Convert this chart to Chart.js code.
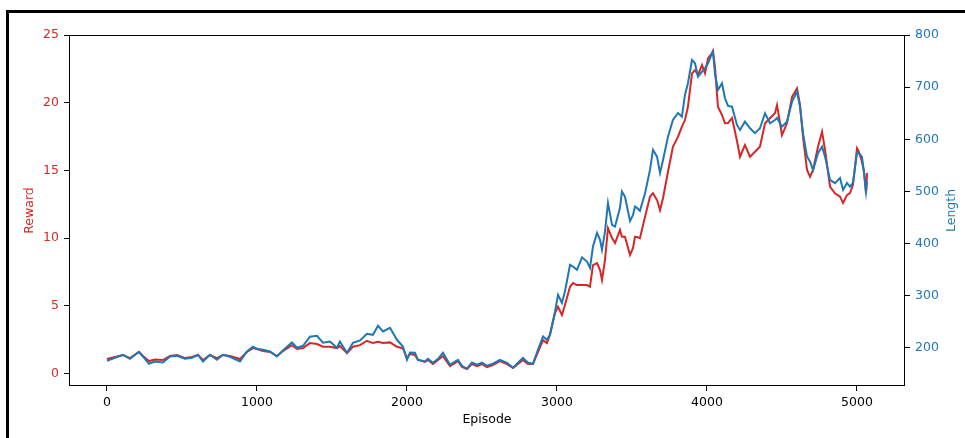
<!DOCTYPE html>
<html lang="en">
<head>
    <meta charset="UTF-8">
    <title>Reward and Length per Episode</title>
    <script src="https://cdn.jsdelivr.net/npm/chart.js@4.4.0/dist/chart.umd.min.js"></script>
    <style>
        html, body {
            margin: 0;
            padding: 0;
            background: #fff;
        }
        .frame {
            position: absolute;
            left: 6px;
            top: 10px;
            right: 0;
            bottom: 0;
            border-left: 3px solid #000;
            border-top: 3px solid #000;
            pointer-events: none;
        }
        canvas {
            position: absolute;
            left: 0;
            top: 0;
        }
    </style>
</head>
<body>

<canvas id="rewardChart" width="965" height="438"></canvas>
<div class="frame"></div>

<script>
    // values
    const episodes = [
        0, 107, 153, 213, 240, 280, 320, 373, 420, 467, 520, 567, 607, 640, 687, 733, 773, 820, 887, 933,
        973, 1000, 1040, 1087, 1133, 1173, 1233, 1267, 1307, 1353, 1400, 1440, 1487, 1533, 1553, 1600, 1640, 1687, 1733, 1773,
        1807, 1840, 1887, 1933, 1973, 2000, 2020, 2053, 2073, 2120, 2140, 2173, 2207, 2240, 2287, 2307, 2340, 2367, 2400, 2433,
        2467, 2500, 2533, 2573, 2620, 2667, 2707, 2740, 2773, 2807, 2840, 2873, 2907, 2933, 2953, 2987, 3007, 3033, 3053, 3087,
        3107, 3133, 3167, 3200, 3220, 3240, 3267, 3287, 3300, 3320, 3340, 3367, 3387, 3420, 3433, 3453, 3487, 3507, 3520, 3533,
        3553, 3587, 3620, 3640, 3667, 3687, 3707, 3740, 3773, 3807, 3833, 3853, 3873, 3900, 3920, 3940, 3967, 3987, 4007, 4033,
        4040, 4053, 4073, 4100, 4120, 4140, 4167, 4200, 4220, 4253, 4287, 4320, 4353, 4387, 4420, 4453, 4467, 4500, 4533, 4567,
        4600, 4620, 4640, 4667, 4687, 4707, 4740, 4767, 4787, 4820, 4853, 4887, 4907, 4933, 4953, 4973, 5000, 5013, 5033, 5047,
        5060, 5067
    ];
    const reward = [
        1.07, 1.37, 1.14, 1.59, 1.29, 0.92, 1.03, 1.0, 1.29, 1.37, 1.14, 1.22, 1.37, 1.0, 1.37, 1.14, 1.37, 1.29, 1.07, 1.59,
        1.88, 1.81, 1.66, 1.59, 1.29, 1.66, 2.10, 1.81, 1.88, 2.25, 2.18, 1.98, 1.98, 1.88, 2.03, 1.51, 1.98, 2.10, 2.42, 2.25,
        2.35, 2.25, 2.30, 1.98, 1.86, 1.14, 1.44, 1.37, 1.0, 0.85, 1.0, 0.70, 1.0, 1.29, 0.55, 0.70, 0.92, 0.48, 0.33, 0.70,
        0.55, 0.70, 0.48, 0.63, 0.92, 0.70, 0.41, 0.70, 1.0, 0.70, 0.70, 1.59, 2.47, 2.25, 2.84, 4.47, 4.93, 4.32, 5.06, 6.41,
        6.68, 6.53, 6.53, 6.53, 6.41, 8.01, 8.16, 7.64, 6.91, 8.38, 10.74, 10.0, 9.64, 10.60, 10.10, 10.10, 8.75, 9.27, 10.10, 10.08,
        10.0, 11.58, 13.06, 13.31, 12.81, 12.07, 12.96, 14.90, 16.75, 17.49, 18.23, 18.72, 19.70, 22.17, 22.41, 22.05, 22.78, 22.17, 23.28, 23.65,
        23.82, 22.66, 19.70, 19.09, 18.48, 18.5, 18.87, 17.17, 16.01, 16.87, 16.01, 16.38, 16.75, 18.48, 18.85, 19.22, 19.83, 17.61, 18.48, 20.44,
        21.06, 19.83, 17.49, 15.03, 14.53, 15.03, 16.75, 17.86, 16.51, 13.80, 13.31, 13.06, 12.59, 13.18, 13.33, 13.92, 16.63, 16.36, 15.64, 14.90,
        13.31, 14.81
    ];
    const length = [
        175.4, 186.9, 179.2, 192.6, 183.6, 169.6, 174.0, 172.1, 183.6, 185.0, 179.2, 181.1, 186.9, 174.0, 186.9, 177.3, 186.9, 183.1, 174.0, 193.2,
        202.2, 198.4, 196.5, 193.2, 183.6, 195.1, 210.4, 200.3, 204.1, 221.4, 223.3, 209.9, 212.4, 200.3, 212.4, 190.7, 209.9, 214.3, 227.1, 225.2,
        242.5, 231.5, 238.6, 215.6, 202.8, 177.3, 191.3, 190.7, 177.3, 174.0, 179.2, 171.6, 179.2, 190.7, 167.7, 171.6, 177.3, 165.8, 160.1, 172.1,
        167.7, 171.6, 165.8, 169.7, 177.3, 171.6, 162.0, 171.6, 181.1, 171.6, 169.7, 196.5, 221.9, 215.6, 225.2, 269.8, 301.8, 286.5, 308.2, 359.3,
        356.1, 349.7, 373.7, 365.6, 353.6, 394.4, 420.6, 407.2, 388.1, 423.1, 478.1, 436.0, 432.7, 468.6, 499.7, 490.2, 443.6, 455.1, 471.0, 468.6,
        462.8, 496.7, 541.3, 579.7, 566.8, 535.6, 560.5, 605.1, 637.1, 650.6, 643.5, 685.0, 707.5, 752.1, 745.8, 720.1, 729.7, 736.2, 745.8, 764.9,
        768.0, 726.6, 694.6, 707.5, 678.7, 664.0, 662.6, 627.6, 618.0, 633.9, 621.2, 611.7, 621.2, 650.0, 630.8, 637.1, 641.0, 624.3, 633.9, 672.2,
        691.4, 662.6, 611.7, 566.8, 557.3, 541.3, 573.3, 586.0, 566.8, 522.2, 515.9, 526.0, 503.0, 516.4, 509.3, 516.4, 573.3, 573.3, 566.8, 535.6,
        499.8, 518.9
    ];
    const xTicks = [0, 1000, 2000, 3000, 4000, 5000];
    const rewardTicks = [0, 5, 10, 15, 20, 25];
    const lengthTicks = [200, 300, 400, 500, 600, 700, 800];

    const RED = '#d62728';
    const BLUE = '#1f77b4';
    const FONT = { family: 'DejaVu Sans', size: 12.5 };

    // matplotlib style box around the plot area, plus the right axis title
    // (chart.js would rotate it the other way round)
    const plotBox = {
        id: 'plotBox',
        afterDraw(chart) {
            const a = chart.chartArea;
            const ctx = chart.ctx;
            ctx.save();
            ctx.strokeStyle = '#000';
            ctx.lineWidth = 1;
            ctx.strokeRect(Math.round(a.left) + 0.5, Math.round(a.top) + 0.5,
                Math.round(a.right - a.left) - 1, Math.round(a.bottom - a.top) - 1);

            ctx.translate(chart.width - 13, (a.top + a.bottom) / 2);
            ctx.rotate(-Math.PI / 2);
            ctx.fillStyle = BLUE;
            ctx.font = FONT.size + 'px "' + FONT.family + '"';
            ctx.textAlign = 'center';
            ctx.textBaseline = 'middle';
            ctx.fillText('Length', 0, 0);
            ctx.restore();
        }
    };

    function fixedTicks(list) {
        return function(scale) {
            scale.ticks = list.map(v => ({ value: v }));
        };
    }

    const tickGrid = { display: true, drawOnChartArea: false, tickLength: 5, tickColor: '#000', tickWidth: 1 };

    const ctx = document.getElementById('rewardChart').getContext('2d');
    new Chart(ctx, {
        type: 'line',
        data: {
            datasets: [{
                label: 'Length',
                data: episodes.map((e, i) => ({ x: e, y: length[i] })),
                borderColor: BLUE,
                borderWidth: 2,
                pointRadius: 0,
                tension: 0,
                yAxisID: 'y1',
                order: 0
            }, {
                label: 'Reward',
                data: episodes.map((e, i) => ({ x: e, y: reward[i] })),
                borderColor: RED,
                borderWidth: 2,
                pointRadius: 0,
                tension: 0,
                yAxisID: 'y',
                order: 1
            }]
        },
        options: {
            responsive: false,
            animation: false,
            events: [],
            layout: { padding: { top: 35, left: 0, right: 0, bottom: 0 } },
            plugins: {
                legend: { display: false },
                tooltip: { enabled: false }
            },
            scales: {
                x: {
                    type: 'linear',
                    min: -253,
                    max: 5320,
                    afterBuildTicks: fixedTicks(xTicks),
                    afterFit: s => { s.height = 52; },
                    grid: tickGrid,
                    border: { display: false },
                    ticks: { color: '#000', font: FONT, padding: 4, maxRotation: 0, callback: v => String(v) },
                    title: { display: true, text: 'Episode', color: '#000', font: FONT, padding: { top: 0, bottom: 11 } }
                },
                y: {
                    position: 'left',
                    min: -0.92,
                    max: 25,
                    afterBuildTicks: fixedTicks(rewardTicks),
                    afterFit: s => { s.width = 69; },
                    grid: tickGrid,
                    border: { display: false },
                    ticks: { color: RED, font: FONT, padding: 5, callback: v => String(v) },
                    title: { display: true, text: 'Reward', color: RED, font: FONT, padding: { top: 22, bottom: 0 } }
                },
                y1: {
                    position: 'right',
                    min: 127,
                    max: 800,
                    afterBuildTicks: fixedTicks(lengthTicks),
                    afterFit: s => { s.width = 60; },
                    grid: tickGrid,
                    border: { display: false },
                    ticks: { color: BLUE, font: FONT, padding: 5, callback: v => String(v) },
                    title: { display: false }
                }
            }
        },
        plugins: [plotBox]
    });
</script>

</body>
</html>
